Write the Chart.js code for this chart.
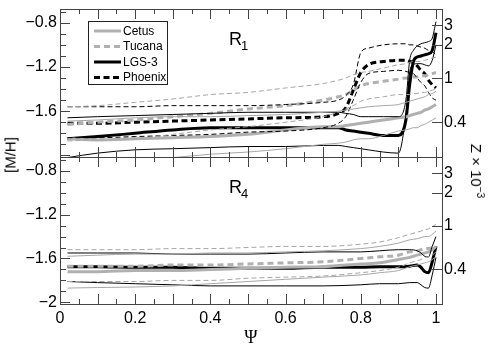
<!DOCTYPE html>
<html>
<head>
<meta charset="utf-8">
<script src="https://cdn.jsdelivr.net/npm/chart.js@4.4.1/dist/chart.umd.min.js"></script>
<style>
  html, body { margin: 0; padding: 0; background: #fff; }
  #wrap { position: relative; width: 491px; height: 352px; overflow: hidden;
          font-family: 'Liberation Sans', Arial, sans-serif; color: #000; }
  canvas { position: absolute; left: 0; }
  #cTop { top: 0; }
  #cBot { top: 156px; }
  .vtitle { position: absolute; font-size: 15px; white-space: nowrap; line-height: 1; }
  #mhTitle { left: 10px; top: 155px; transform: translate(-50%, -50%) rotate(-90deg); }
  #zTitle { left: 477px; top: 171px; transform: translate(-50%, -50%) rotate(90deg); }
  #zTitle sup { font-size: 10px; vertical-align: 6px; }
</style>
</head>
<body>
<div id="wrap">
  <canvas id="cTop" width="491" height="158" style="width:491px;height:158px"></canvas>
  <canvas id="cBot" width="491" height="196" style="width:491px;height:196px"></canvas>
  <div id="mhTitle" class="vtitle">[M/H]</div>
  <div id="zTitle" class="vtitle">Z × 10<sup>−3</sup></div>
</div>
<script>
// Metallicity profiles vs. Psi, two radii (R1 top, R4 bottom)

const galaxies = ['Cetus', 'Tucana', 'LGS-3', 'Phoenix'];

const psiTicks = [0, 0.2, 0.4, 0.6, 0.8, 1];
const mhTicksR1 = [-1.6, -1.2, -0.8];
const mhTicksR4 = [-2, -1.6, -1.2, -0.8];
const zTicks = [0.4, 1, 2, 3];       // Z x 10^-3
const Z_SUN = 0.02;

// ---- R1 ----
const psiR1 = [0.02, 0.1, 0.2, 0.3, 0.4, 0.5, 0.6, 0.7, 0.74, 0.76, 0.78, 0.8, 0.82, 0.86, 0.9, 0.92, 0.93, 0.94, 0.95, 0.96, 0.97, 0.98, 0.99, 1.0];

const cetusR1Mid = [-1.85, -1.86, -1.85, -1.84, -1.83, -1.81, -1.77, -1.74, -1.74, -1.73, -1.72, -1.71, -1.70, -1.68, -1.66, -1.65, -1.64, -1.63, -1.62, -1.61, -1.59, -1.58, -1.56, -1.54];
const cetusR1Hi  = [-1.69, -1.68, -1.66, -1.65, -1.65, -1.64, -1.63, -1.61, -1.60, -1.59, -1.58, -1.57, -1.56, -1.55, -1.54, -1.52, -1.51, -1.50, -1.49, -1.48, -1.47, -1.45, -1.44, -1.42];
const cetusR1Lo  = [-2.07, -2.05, -2.04, -2.02, -1.99, -1.97, -1.94, -1.90, -1.89, -1.88, -1.86, -1.85, -1.85, -1.82, -1.78, -1.77, -1.76, -1.75, -1.75, -1.73, -1.72, -1.70, -1.68, -1.66];

const tucanaR1Mid = [-1.72, -1.70, -1.68, -1.65, -1.62, -1.58, -1.55, -1.50, -1.47, -1.45, -1.41, -1.37, -1.35, -1.33, -1.31, -1.30, -1.30, -1.29, -1.29, -1.28, -1.28, -1.27, -1.26, -1.25];
const tucanaR1Hi  = [-1.56, -1.55, -1.52, -1.49, -1.45, -1.43, -1.39, -1.35, -1.32, -1.30, -1.27, -1.25, -1.24, -1.21, -1.18, -1.17, -1.16, -1.15, -1.15, -1.15, -1.14, -1.13, -1.12, -1.11];
const tucanaR1Lo  = [-1.87, -1.86, -1.85, -1.81, -1.77, -1.74, -1.70, -1.65, -1.61, -1.58, -1.55, -1.51, -1.49, -1.47, -1.45, -1.45, -1.45, -1.44, -1.44, -1.43, -1.43, -1.42, -1.41, -1.40];

const lgsR1Mid = [-1.85, -1.83, -1.80, -1.77, -1.75, -1.75, -1.75, -1.75, -1.75, -1.77, -1.78, -1.79, -1.80, -1.82, -1.82, -1.68, -1.36, -1.15, -1.11, -1.10, -1.09, -1.08, -1.05, -0.89];
const lgsR1Hi  = [-1.66, -1.65, -1.64, -1.63, -1.62, -1.61, -1.61, -1.61, -1.61, -1.62, -1.63, -1.65, -1.65, -1.65, -1.65, -1.50, -1.14, -1.05, -1.01, -0.99, -0.98, -0.97, -0.94, -0.79];
const lgsR1Lo  = [-2.02, -1.98, -1.95, -1.94, -1.93, -1.92, -1.92, -1.91, -1.91, -1.92, -1.93, -1.94, -1.95, -1.97, -1.98, -1.63, -1.25, -1.18, -1.17, -1.17, -1.18, -1.19, -1.14, -1.00];

const phoenixR1Mid = [-1.71, -1.71, -1.70, -1.69, -1.68, -1.67, -1.66, -1.65, -1.62, -1.57, -1.41, -1.25, -1.18, -1.15, -1.14, -1.14, -1.15, -1.16, -1.19, -1.23, -1.26, -1.32, -1.36, -1.39];
const phoenixR1Hi  = [-1.56, -1.56, -1.56, -1.55, -1.55, -1.55, -1.54, -1.52, -1.50, -1.46, -1.36, -1.07, -1.03, -1.00, -0.99, -0.99, -1.00, -1.00, -1.01, -1.02, -1.03, -1.05, -1.06, -1.09];
const phoenixR1Lo  = [-1.84, -1.84, -1.83, -1.82, -1.81, -1.79, -1.78, -1.75, -1.71, -1.65, -1.50, -1.34, -1.26, -1.24, -1.23, -1.24, -1.25, -1.26, -1.30, -1.34, -1.37, -1.43, -1.48, -1.50];

// ---- R4 (no Phoenix) ----
const psiR4 = [0.02, 0.1, 0.2, 0.3, 0.4, 0.5, 0.6, 0.7, 0.8, 0.85, 0.9, 0.93, 0.95, 0.96, 0.97, 0.98, 0.99, 1.0];

const cetusR4Mid = [-1.72, -1.72, -1.71, -1.71, -1.70, -1.69, -1.68, -1.675, -1.65, -1.64, -1.61, -1.59, -1.57, -1.56, -1.55, -1.54, -1.52, -1.49];
const cetusR4Hi  = [-1.58, -1.57, -1.56, -1.56, -1.55, -1.55, -1.54, -1.53, -1.51, -1.49, -1.46, -1.43, -1.42, -1.41, -1.40, -1.40, -1.38, -1.35];
const cetusR4Lo  = [-1.87, -1.865, -1.86, -1.85, -1.83, -1.81, -1.79, -1.77, -1.75, -1.73, -1.71, -1.675, -1.66, -1.65, -1.64, -1.63, -1.61, -1.585];

const tucanaR4Mid = [-1.67, -1.67, -1.67, -1.66, -1.66, -1.65, -1.64, -1.63, -1.60, -1.585, -1.57, -1.54, -1.53, -1.52, -1.51, -1.51, -1.50, -1.49];
const tucanaR4Hi  = [-1.52, -1.52, -1.52, -1.51, -1.51, -1.50, -1.49, -1.49, -1.47, -1.45, -1.41, -1.38, -1.36, -1.35, -1.34, -1.33, -1.31, -1.29];
const tucanaR4Lo  = [-1.81, -1.81, -1.81, -1.80, -1.80, -1.78, -1.77, -1.76, -1.73, -1.71, -1.68, -1.64, -1.62, -1.61, -1.59, -1.585, -1.57, -1.54];

const lgsR4Mid = [-1.675, -1.675, -1.68, -1.68, -1.69, -1.69, -1.69, -1.68, -1.68, -1.675, -1.675, -1.67, -1.66, -1.68, -1.72, -1.73, -1.63, -1.49];
const lgsR4Hi  = [-1.55, -1.55, -1.55, -1.56, -1.56, -1.56, -1.55, -1.54, -1.54, -1.53, -1.52, -1.52, -1.53, -1.55, -1.58, -1.585, -1.49, -1.40];
const lgsR4Lo  = [-1.81, -1.82, -1.83, -1.84, -1.85, -1.85, -1.85, -1.85, -1.84, -1.83, -1.83, -1.82, -1.82, -1.84, -1.865, -1.87, -1.75, -1.59];

const GRAY = '#b0b0b0';
const GRAY_THIN = '#a6a6a6';
const styles = {
  'Cetus':   { color: GRAY,   thin: GRAY_THIN, dash: [] },
  'Tucana':  { color: GRAY,   thin: GRAY_THIN, dash: [6, 4] },
  'LGS-3':   { color: '#000', thin: '#000',    dash: [] },
  'Phoenix': { color: '#000', thin: '#000',    dash: [6, 3.5] },
};
const THIN_DASH = [5, 3];
const FONT = "'Liberation Sans', Arial, Helvetica, sans-serif";

Chart.defaults.font.family = FONT;
Chart.defaults.color = '#000';

const zToMH = z => Math.log10(z * 1e-3 / Z_SUN);
const minus = v => String(v).replace('-', '\u2212');

function series(psi, vals) {
  return psi.map((p, i) => ({ x: p, y: vals[i] }));
}

function line(data, color, width, dash) {
  return {
    data, borderColor: color, borderWidth: width, borderDash: dash,
    pointRadius: 0, fill: false, cubicInterpolationMode: 'monotone', clip: 0,
  };
}

// thin bounds go first so the thick medians are drawn on top
function bands(psi, rows) {
  const thin = [], thick = [];
  rows.forEach(([name, lo, mid, hi]) => {
    const s = styles[name];
    const td = s.dash.length ? THIN_DASH : [];
    thin.push(line(series(psi, hi), s.thin, 1, td));
    thin.push(line(series(psi, lo), s.thin, 1, td));
    thick.push(line(series(psi, mid), s.color, 3, s.dash));
  });
  return thin.concat(thick);
}

// inward ticks, frame, panel label and legend
const frame = {
  id: 'frame',
  afterDatasetsDraw(chart, args, opts) {
    const { ctx, chartArea: a, scales } = chart;
    ctx.save();
    ctx.strokeStyle = '#444';
    ctx.lineWidth = 1;
    ctx.setLineDash([]);
    ctx.beginPath();
    for (let k = 0; k <= 20; k++) {
      const px = Math.round(scales.x.getPixelForValue(k / 20)) + 0.5;
      const len = k % 2 === 0 ? 10 : 5;
      ctx.moveTo(px, a.top); ctx.lineTo(px, a.top + len);
      ctx.moveTo(px, a.bottom); ctx.lineTo(px, a.bottom - len);
    }
    for (let k = -20; k <= -7; k++) {
      const py = Math.round(scales.y.getPixelForValue(k / 10)) + 0.5;
      if (py < a.top || py > a.bottom) continue;
      const len = k % 4 === 0 ? 10 : 6;
      ctx.moveTo(a.left, py); ctx.lineTo(a.left + len, py);
    }
    zTicks.forEach(z => {
      const py = Math.round(scales.z.getPixelForValue(zToMH(z))) + 0.5;
      ctx.moveTo(a.right, py); ctx.lineTo(a.right - 10, py);
    });
    ctx.stroke();
    ctx.strokeRect(a.left + 0.5, a.top + 0.5, a.right - a.left, a.bottom - a.top);

    // R label with subscript
    ctx.fillStyle = '#000';
    ctx.textBaseline = 'alphabetic';
    ctx.textAlign = 'left';
    ctx.font = '18px ' + FONT;
    ctx.fillText('R', a.left + 169, a.top + 36);
    ctx.font = '13px ' + FONT;
    ctx.fillText(opts.sub, a.left + 181, a.top + 41);

    if (opts.legend) {
      const bx = a.left + 28, by = a.top + 12;
      ctx.fillStyle = '#fff';
      ctx.fillRect(bx, by, 79, 63);
      ctx.strokeStyle = '#222';
      ctx.strokeRect(bx + 0.5, by + 0.5, 79, 63);
      ctx.font = '12px ' + FONT;
      ctx.textBaseline = 'middle';
      galaxies.forEach((g, i) => {
        const s = styles[g];
        const y = by + 10 + i * 15.5;
        ctx.beginPath();
        ctx.strokeStyle = s.color;
        ctx.lineWidth = 3;
        ctx.setLineDash(s.dash);
        ctx.moveTo(bx + 6, y); ctx.lineTo(bx + 33, y);
        ctx.stroke();
        ctx.fillStyle = '#000';
        ctx.fillText(g, bx + 35, y + 0.5);
      });
    }
    ctx.restore();
  },
};

function panel(id, datasets, mhTicks, isBottom, sub) {
  // fixed axis sizes, no automatic label overhang padding
  const fixV = w => s => { s.width = w; s.paddingTop = 0; s.paddingBottom = 0; };
  return new Chart(document.getElementById(id), {
    type: 'line',
    data: { datasets },
    options: {
      responsive: false,
      animation: false,
      events: [],
      layout: { padding: isBottom ? { top: 1 } : { top: 9, bottom: 1 } },
      plugins: {
        legend: { display: false },
        tooltip: { enabled: false },
        frame: { sub, legend: !isBottom },
      },
      scales: {
        x: {
          type: 'linear', min: 0, max: 1.016,
          display: isBottom,
          grid: { display: false, drawTicks: false },
          border: { display: false },
          afterBuildTicks: s => { s.ticks = psiTicks.map(v => ({ value: v })); },
          afterFit: s => { s.height = isBottom ? 48 : 0; s.paddingLeft = 0; s.paddingRight = 0; },
          ticks: { font: { size: 16 }, padding: 5, maxRotation: 0, callback: v => String(v) },
          title: {
            display: true, text: '\u03A8',
            font: { family: "'Liberation Serif', 'DejaVu Serif', serif", size: 18 },
            padding: { top: 0, bottom: 3 },
          },
        },
        y: {
          type: 'linear', position: 'left', min: -2.015, max: -0.675,
          grid: { display: false, drawTicks: false },
          border: { display: false },
          afterBuildTicks: s => { s.ticks = mhTicks.map(v => ({ value: v })); },
          afterFit: fixV(60),
          ticks: { font: { size: 16 }, padding: 3, callback: v => minus(v) },
        },
        z: {
          type: 'linear', position: 'right', min: -2.015, max: -0.675,
          grid: { display: false, drawTicks: false },
          border: { display: false },
          afterBuildTicks: s => { s.ticks = zTicks.map(z => ({ value: zToMH(z) })); },
          afterFit: fixV(49),
          ticks: { font: { size: 16 }, padding: 2, callback: (v, i) => String(zTicks[i]) },
        },
      },
    },
    plugins: [frame],
  });
}

panel('cTop', bands(psiR1, [
  ['Cetus', cetusR1Lo, cetusR1Mid, cetusR1Hi],
  ['Tucana', tucanaR1Lo, tucanaR1Mid, tucanaR1Hi],
  ['LGS-3', lgsR1Lo, lgsR1Mid, lgsR1Hi],
  ['Phoenix', phoenixR1Lo, phoenixR1Mid, phoenixR1Hi],
]), mhTicksR1, false, '1');

panel('cBot', bands(psiR4, [
  ['Cetus', cetusR4Lo, cetusR4Mid, cetusR4Hi],
  ['Tucana', tucanaR4Lo, tucanaR4Mid, tucanaR4Hi],
  ['LGS-3', lgsR4Lo, lgsR4Mid, lgsR4Hi],
]), mhTicksR4, true, '4');
</script>
</body>
</html>
